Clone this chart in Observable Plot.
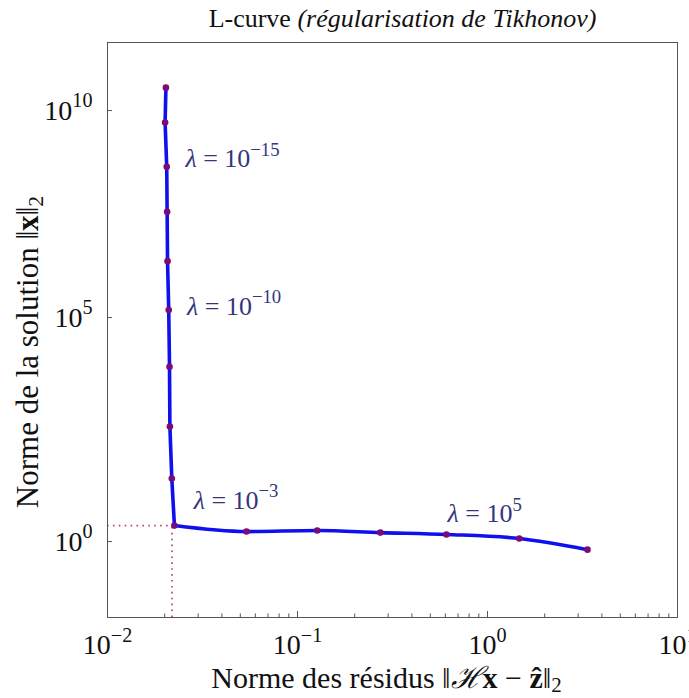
<!DOCTYPE html>
<html><head><meta charset="utf-8">
<script src="https://cdn.jsdelivr.net/npm/d3@7"></script>
<script src="https://cdn.jsdelivr.net/npm/@observablehq/plot@0.6"></script>
<style>html,body{margin:0;padding:0;background:#fff;} #chart{width:689px;height:698px;}</style>
</head><body><div id="chart"></div>
<script>
// ---- data ----
const residNorm = [0.0203, 0.0201, 0.0205, 0.0206, 0.0207, 0.0210, 0.0212, 0.0213, 0.0218, 0.0225, 0.0539, 0.127, 0.273, 0.608, 1.47, 3.36];
const solNorm   = [3.8e10, 5.0e9, 4.0e8, 3.2e7, 2.1e6, 1.5e5, 7.4e3, 330, 23.4, 2.21, 1.64, 1.73, 1.56, 1.42, 1.16, 0.67];
const cornerIndex = 9;
const lambdaLabels = ["\\i{λ} = 10^{−15}", "\\i{λ} = 10^{−10}", "\\i{λ} = 10^{−3}", "\\i{λ} = 10^{5}"];
const lambdaLabelX = [0.0257, 0.0262, 0.0284, 0.616];
const lambdaLabelY = [6.3e8, 1.8e5, 7.7, 4.0];
const xTicks = [0.01, 0.1, 1, 10];
const xTickLabels = ["10^{−2}", "10^{−1}", "10^{0}", "10^{1}"];
const xMinorTicks = [0.02,0.03,0.04,0.05,0.06,0.07,0.08,0.09,0.2,0.3,0.4,0.5,0.6,0.7,0.8,0.9,2,3,4,5,6,7,8,9];
const yTicks = [1, 1e5, 1e10];
const yTickLabels = ["10^{0}", "10^{5}", "10^{10}"];
const xLimits = [0.01, 10];
const yLimits = [0.0243, 5.5e11];
const cornerX = [0.02185];
const cornerY = [2.21];
const titleText = "L-curve \\i{(régularisation de Tikhonov)}";
const xLabelText = "Norme des résidus ‖\\i{ℋ}\\b{x} − \\b{ẑ}‖_{2}";
const yLabelText = "Norme de la solution ‖\\b{x}‖_{2}";

// the reference's vertical axis is a slightly compressed log axis
const warp = v => { const e = Math.log10(v); return e - 0.00731 * e * e; };

const pts = residNorm.map((r, i) => ({r, n: solNorm[i]}));
const labels = lambdaLabels.map((t, i) => ({t, x: lambdaLabelX[i], y: lambdaLabelY[i]}));
const corner = cornerX.map((x, i) => ({x, y: cornerY[i]}));
const yTW = yTicks.map(warp);

const FONT = "'Liberation Serif', 'DejaVu Serif', serif";
const axisGray = "#555";
const dotColor = "#c2406e";
const lineStyle = {x: "r", y: d => warp(d.n), stroke: "#1010ee", strokeWidth: 3.6, strokeLinejoin: "round"};

const plot = Plot.plot({
  width: 689, height: 698,
  marginLeft: 107, marginRight: 12, marginTop: 42, marginBottom: 81,
  style: {fontFamily: FONT, fontSize: "26px", background: "#fff", color: "#111"},
  x: {type: "log", domain: xLimits},
  y: {type: "linear", domain: yLimits.map(warp)},
  marks: [
    Plot.ruleY(corner, {x1: xLimits[0], x2: d => d.x, y: d => warp(d.y), stroke: dotColor, strokeWidth: 1.7, strokeDasharray: "1.6,4.3"}),
    Plot.ruleX(corner, {x: d => d.x, y1: warp(yLimits[0]), y2: d => warp(d.y), stroke: dotColor, strokeWidth: 1.7, strokeDasharray: "1.6,4.3"}),
    Plot.line(pts.slice(0, cornerIndex + 1), {...lineStyle, curve: "linear"}),
    Plot.line(pts.slice(cornerIndex), {...lineStyle, curve: "monotone-x"}),
    Plot.dot(pts, {x: "r", y: d => warp(d.n), r: 3.3, fill: "#7a0c78", stroke: "none"}),
    Plot.text(labels, {x: "x", y: d => warp(d.y), text: "t", textAnchor: "start", fontSize: 26, fill: "#35357e"}),
    Plot.frame({stroke: axisGray, strokeWidth: 1}),
    Plot.axisX(xMinorTicks, {tickSize: 3.5, dy: -3.5, tickFormat: () => "", label: null, stroke: axisGray}),
    Plot.axisX(xTicks, {tickSize: 6, dy: -6, tickFormat: () => "", label: null, stroke: axisGray}),
    Plot.axisX(xTicks, {tickSize: 0, tickPadding: 17, tickFormat: d => xTickLabels[xTicks.indexOf(d)], label: null, fontSize: 28, fill: "#111"}),
    Plot.axisY(yTW, {tickSize: 5, dx: 5, tickFormat: () => "", label: null, stroke: axisGray}),
    Plot.axisY(yTW, {tickSize: 0, tickPadding: 15, tickFormat: d => yTickLabels[yTW.indexOf(d)], label: null, fontSize: 28, fill: "#111"}),
    Plot.text([titleText], {frameAnchor: "top", dx: 10, dy: -24, lineAnchor: "middle", textAnchor: "middle", text: d => d, fontSize: 26, fill: "#111"}),
    Plot.text([xLabelText], {frameAnchor: "bottom", dx: -6, dy: 61, lineAnchor: "middle", textAnchor: "middle", text: d => d, fontSize: 30, fill: "#111"}),
    Plot.text([yLabelText], {frameAnchor: "left", dx: -79, dy: 22, lineAnchor: "middle", textAnchor: "middle", text: d => d, rotate: -90, fontSize: 31, fill: "#111"})
  ]
});
document.getElementById("chart").appendChild(plot);

// turn the small markup (^{} superscript, _{} subscript, \i{} italic, \b{} bold) into tspans
function rich(el) {
  const src = el.textContent;
  const re = /(\^|_|\\i|\\b)\{([^}]*)\}/g;
  if (!re.test(src)) return;
  re.lastIndex = 0;
  const fs = parseFloat(getComputedStyle(el).fontSize) || 20;
  while (el.firstChild) el.removeChild(el.firstChild);
  let shift = 0, last = 0, m;
  const add = (txt, kind) => {
    if (!txt) return;
    const t = document.createElementNS("http://www.w3.org/2000/svg", "tspan");
    let target = 0;
    if (kind === "^") { t.setAttribute("font-size", (fs * 0.72) + "px"); target = -0.44 * fs; }
    else if (kind === "_") { t.setAttribute("font-size", (fs * 0.7) + "px"); target = 0.14 * fs; }
    else if (kind === "\\i") t.setAttribute("font-style", "italic");
    else if (kind === "\\b") t.setAttribute("font-weight", "bold");
    if (target !== shift) { t.setAttribute("dy", (target - shift) + "px"); shift = target; }
    t.textContent = txt;
    el.appendChild(t);
  };
  while ((m = re.exec(src))) { add(src.slice(last, m.index), null); add(m[2], m[1]); last = re.lastIndex; }
  add(src.slice(last), null);
}
plot.querySelectorAll("text").forEach(rich);
</script>
</body></html>
